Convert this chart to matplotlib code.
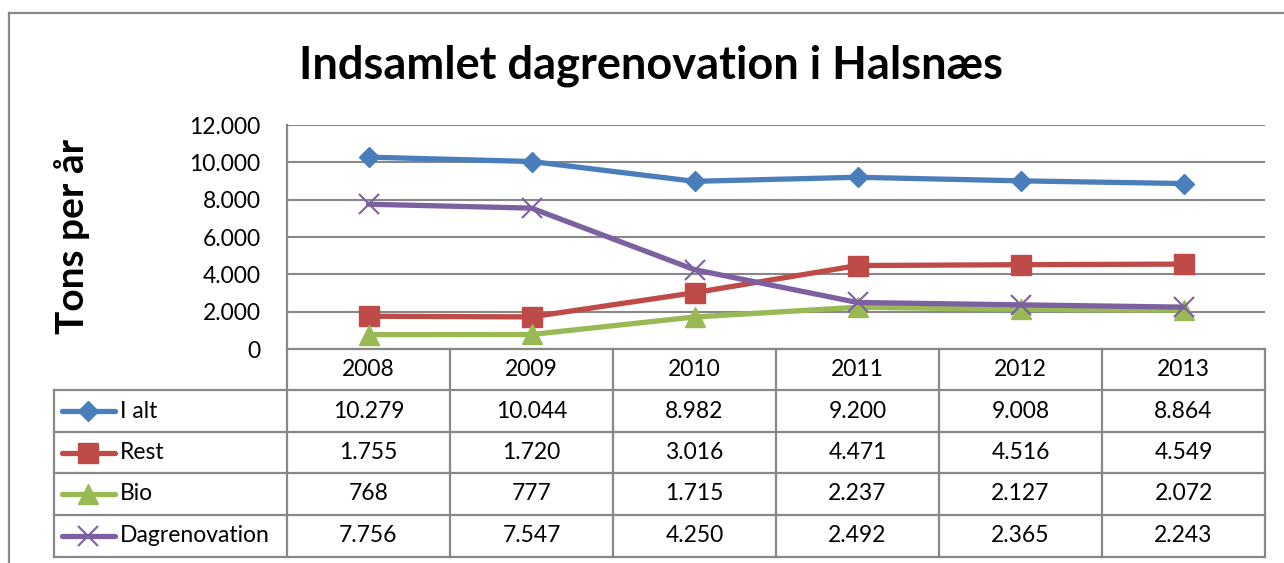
import matplotlib
matplotlib.use("Agg")
import matplotlib.pyplot as plt
from matplotlib.lines import Line2D
import matplotlib.transforms as mtrans
from matplotlib.ticker import FuncFormatter

years = ["2008", "2009", "2010", "2011", "2012", "2013"]
i_alt = [10279, 10044, 8982, 9200, 9008, 8864]
rest = [1755, 1720, 3016, 4471, 4516, 4549]
bio = [768, 777, 1715, 2237, 2127, 2072]
dagrenovation = [7756, 7547, 4250, 2492, 2365, 2243]
series_names = ["I alt", "Rest", "Bio", "Dagrenovation"]
series_values = [i_alt, rest, bio, dagrenovation]
title = "Indsamlet dagrenovation i Halsnæs"
ylabel = "Tons per år"
yticks = [0, 2000, 4000, 6000, 8000, 10000, 12000]

colors = ["#4A7EBB", "#BE4B48", "#98B954", "#7D60A0"]
markers = ["D", "s", "^", "x"]
msizes = [10, 14, 14, 14]

plt.rcParams["font.family"] = ["Lato", "DejaVu Sans"]

W, H = 1284, 563
fig = plt.figure(figsize=(W / 100, H / 100), dpi=100)
fig.patch.set_facecolor("white")

def fx(px):
    return px / W

def fy(py):
    return 1 - py / H

grey = "#888888"

# outer chart frame
fig.add_artist(Line2D([fx(9), fx(9)], [fy(13), fy(570)], color=grey, lw=1.6))
fig.add_artist(Line2D([fx(9), fx(1290)], [fy(13), fy(13)], color=grey, lw=1.6))

left, right, top, bottom = 287, 1265, 125, 349
ax = fig.add_axes([fx(left), fy(bottom), fx(right) - fx(left), fy(top) - fy(bottom)])
x = list(range(len(years)))
for vals, c, m, ms in zip(series_values, colors, markers, msizes):
    ax.plot(x, vals, color=c, lw=3.8, marker=m, markersize=ms,
            markerfacecolor=c, markeredgecolor=c,
            markeredgewidth=1.5 if m == "x" else 1.0, solid_capstyle="round", zorder=3)

ax.set_xlim(-0.5, len(years) - 0.5)
ax.set_ylim(0, 12000)
ax.set_yticks(yticks)
ax.yaxis.set_major_formatter(FuncFormatter(lambda v, p: f"{int(v):,}".replace(",", ".")))
ax.set_xticks([])
ax.grid(axis="y", color=grey, lw=1.5)
ax.set_axisbelow(True)
for s in ["top", "right", "bottom"]:
    ax.spines[s].set_visible(False)
ax.spines["left"].set_color(grey)
ax.spines["left"].set_linewidth(1.6)
ax.tick_params(axis="y", length=0, pad=19, labelsize=16.5, colors="black")

fig.text(fx(651), fy(66), title, ha="center", va="center", fontsize=32.5, fontweight="bold")
fig.text(fx(72), fy(236), ylabel, ha="center", va="center", rotation=90, fontsize=28, fontweight="bold")

# data table
trans = mtrans.blended_transform_factory(ax.transData, fig.transFigure)
row_lines = [349, 390, 432, 473, 515, 557]
tl = dict(color=grey, lw=1.6, clip_on=False)
for i, r in enumerate(row_lines):
    if i == 0:
        fig.add_artist(Line2D([fx(left), fx(right)], [fy(r), fy(r)], **tl))
    else:
        fig.add_artist(Line2D([fx(54), fx(right)], [fy(r), fy(r)], **tl))
for k in range(len(years) + 1):
    xb = k - 0.5
    fig.add_artist(Line2D([xb, xb], [fy(349), fy(557)], transform=trans, **tl))
fig.add_artist(Line2D([fx(54), fx(54)], [fy(390), fy(557)], **tl))

fs = 16.5
for k, yr in enumerate(years):
    fig.text(k, fy(370), yr, transform=trans, ha="center", va="center", fontsize=fs)
for j, (name, vals, c, m, ms) in enumerate(zip(series_names, series_values, colors, markers, msizes)):
    yc = (row_lines[j + 1] + row_lines[j + 2]) / 2
    for k, v in enumerate(vals):
        fig.text(k, fy(yc), f"{v:,}".replace(",", "."), transform=trans,
                 ha="center", va="center", fontsize=fs)
    fig.add_artist(Line2D([fx(62), fx(115)], [fy(yc), fy(yc)], color=c, lw=3.8,
                          solid_capstyle="round"))
    fig.add_artist(Line2D([fx(88.5)], [fy(yc)], color=c, marker=m, markersize=ms,
                          markerfacecolor=c, markeredgecolor=c,
                          markeredgewidth=1.5 if m == "x" else 1.0, lw=0))
    fig.text(fx(120), fy(yc), name, ha="left", va="center", fontsize=fs)

fig.savefig("out.png", dpi=100)
